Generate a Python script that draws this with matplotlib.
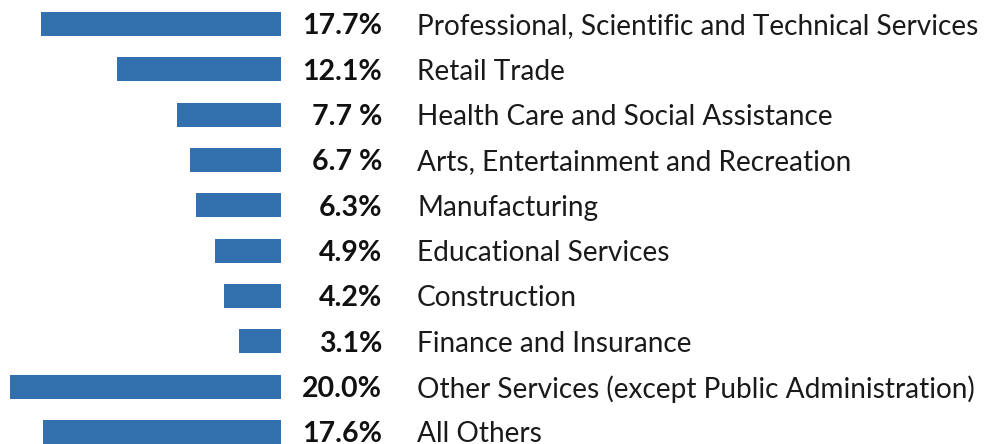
import matplotlib
matplotlib.use("Agg")
import matplotlib.pyplot as plt
import matplotlib.transforms as mtransforms

categories = [
    "Professional, Scientific and Technical Services",
    "Retail Trade",
    "Health Care and Social Assistance",
    "Arts, Entertainment and Recreation",
    "Manufacturing",
    "Educational Services",
    "Construction",
    "Finance and Insurance",
    "Other Services (except Public Administration)",
    "All Others",
]
values = [17.7, 12.1, 7.7, 6.7, 6.3, 4.9, 4.2, 3.1, 20.0, 17.6]
value_labels = ["17.7%", "12.1%", "7.7 %", "6.7 %", "6.3%", "4.9%", "4.2%", "3.1%", "20.0%", "17.6%"]

W, H = 998, 444
fig = plt.figure(figsize=(W / 100, H / 100), dpi=100)
ax = fig.add_axes([10 / W, 0, (281 - 10) / W, 1])

ypos = list(range(len(categories)))
ax.barh(ypos, values, height=0.53, color="#3370ae")
ax.set_xlim(20.0, 0)
ax.set_ylim(9.265, -0.529)
ax.axis("off")

trans = mtransforms.blended_transform_factory(fig.transFigure, ax.transData)
for y, lab, cat in zip(ypos, value_labels, categories):
    ax.text(382 / W, y, lab, transform=trans, ha="right", va="center_baseline",
            fontsize=20.5, fontweight="bold", family="Lato", color="#111111")
    ax.text(417 / W, y, cat, transform=trans, ha="left", va="center_baseline",
            fontsize=20.2, fontweight="normal", family="Lato", color="#1a1a1a")

fig.savefig("out.png", dpi=100)
